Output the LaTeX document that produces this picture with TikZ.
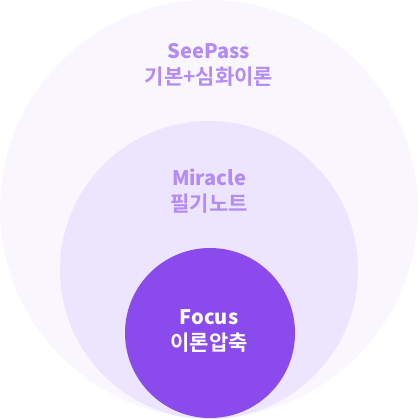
\documentclass[tikz,border=0pt]{standalone}
\usepackage{fontspec}
\setmainfont{Noto Sans CJK KR Black}
\newfontfamily\kofont{Noto Sans CJK KR Bold}[RawFeature=+palt]
\usepackage{xcolor}
\definecolor{cOuter}{HTML}{F9F6FE}
\definecolor{cMiddle}{HTML}{EDE5FD}
\definecolor{cInner}{HTML}{8A4AEC}
\definecolor{cLabel}{HTML}{B48AF5}
\usepackage{tikz}
\usetikzlibrary{positioning}
\newcommand{\koname}[1]{{\kofont\fontsize{21}{26}\selectfont #1}}
\tikzset{
  ring-outer/.style={fill=cOuter,draw=none},
  ring-middle/.style={fill=cMiddle,draw=none},
  ring-inner/.style={fill=cInner,draw=none},
  ring-label/.style={align=center,font=\fontsize{20}{26}\selectfont,
    text=cLabel,inner sep=0pt},
  ring-label-inner/.style={ring-label,text=white},
}

\begin{document}
\begin{tikzpicture}[x=1pt,y=-1pt]
  \useasboundingbox (0,0) rectangle (418,419);
  \fill[ring-outer] (209,209) circle (209);
  \fill[ring-middle] (209,270) circle (149);
  \fill[ring-inner] (210,333) circle (85);
  \node[ring-label] (see) at (209,65) {SeePass\\\koname{기본+심화이론}};
  \node[ring-label] (mir) at (209,191) {Miracle\\\koname{필기노트}};
  \node[ring-label-inner] (foc) at (209,331) {Focus\\\koname{이론압축}};
\end{tikzpicture}
\end{document}
